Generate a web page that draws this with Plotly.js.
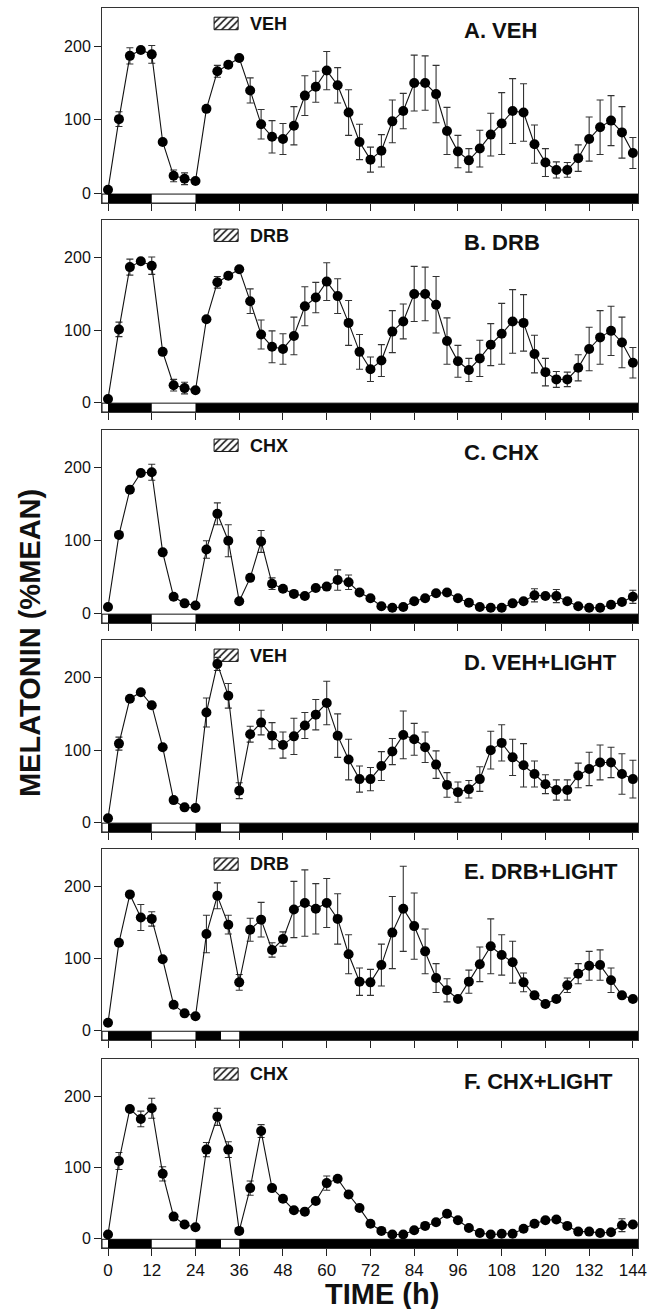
<!DOCTYPE html>
<html>
<head>
<meta charset="utf-8">
<script src="https://cdn.plot.ly/plotly-3.0.1.min.js"></script>
<style>html,body{margin:0;padding:0;background:#fff;}</style>
</head>
<body>
<div id="chart" style="width:655px;height:1309px;"></div>
<script>
// ---- data ----
const hours = [0,3,6,9,12,15,18,21,24,27,30,33,36,39,42,45,48,51,54,57,60,63,66,69,72,75,78,81,84,87,90,93,96,99,102,105,108,111,114,117,120,123,126,129,132,135,138,141,144];

const valA = [5,101,187,195,189,70,24,20,17,115,166,175,184,140,94,77,74,92,133,145,167,147,110,70,46,58,98,112,150,150,135,85,57,45,61,80,95,112,110,67,42,32,32,48,74,90,99,83,55];
const errA = [0,10,11,3,12,0,8,8,0,0,8,0,0,17,20,22,21,26,27,21,26,24,31,24,17,22,29,24,38,37,39,32,22,16,25,29,42,44,39,26,19,11,10,18,30,37,34,35,21];

const valB = [5,101,187,195,189,70,24,20,17,115,166,175,184,140,94,77,74,92,133,145,167,147,110,70,46,58,98,112,150,150,135,85,57,45,61,80,95,112,110,67,42,32,32,48,74,90,99,83,55];
const errB = [0,10,11,3,12,0,8,8,0,0,8,0,0,17,20,22,21,26,27,21,26,24,31,24,17,22,29,24,38,37,39,32,22,16,25,29,42,44,39,26,19,11,10,18,30,37,34,35,21];

const valC = [9,108,170,193,194,84,23,14,11,88,137,100,17,49,99,41,34,27,24,35,37,46,43,29,21,10,8,9,17,21,28,29,21,15,9,8,8,14,17,25,24,24,17,10,8,8,12,16,23];
const errC = [0,0,0,0,11,0,0,0,0,12,15,22,0,0,15,8,0,0,0,0,0,14,10,0,0,0,0,0,0,0,0,0,0,0,0,0,0,0,0,9,0,9,0,0,0,0,0,0,9];

const valD = [6,109,171,180,162,104,31,21,20,152,219,175,44,122,138,120,107,119,134,149,165,120,87,60,60,78,98,121,115,104,80,52,42,46,60,100,110,90,79,67,53,45,45,65,74,83,83,67,60];
const errD = [0,9,0,0,0,0,0,0,0,20,9,17,11,11,17,18,18,25,18,21,30,30,28,18,16,20,18,33,22,21,19,17,14,12,17,26,25,25,30,18,13,14,14,17,23,24,21,28,26];

const valE = [11,122,189,157,155,99,36,24,20,134,187,147,67,140,154,112,127,168,177,169,177,155,106,68,67,91,136,169,145,110,73,56,44,68,92,117,105,95,67,49,37,44,63,79,90,91,70,49,44];
const errE = [0,0,0,18,10,0,0,0,0,26,18,13,11,16,24,10,10,39,46,35,34,35,27,19,18,29,50,59,46,31,20,16,0,16,24,38,28,29,13,0,0,0,10,14,20,21,17,0,0];

const valF = [6,109,182,168,183,91,31,20,16,125,171,125,11,71,151,71,56,40,38,53,78,84,62,43,21,11,6,6,12,18,23,35,26,15,8,6,7,7,14,21,26,27,18,10,10,8,9,19,20];
const errF = [0,12,0,11,14,10,0,0,0,10,12,11,0,10,9,0,0,0,0,0,10,0,0,0,0,0,0,0,0,0,0,0,0,0,0,0,0,0,0,0,0,0,0,0,0,0,0,9,0];

const panelTitles = ['A. VEH','B. DRB','C. CHX','D. VEH+LIGHT','E. DRB+LIGHT','F. CHX+LIGHT'];
const treatments = ['VEH','DRB','CHX','VEH','DRB','CHX'];
const xTickHours = [0,12,24,36,48,60,72,84,96,108,120,132,144];
const yTickVals = [0,100,200];

// light/dark schedule (dark periods, h)
const darkStartPlain = [0,24];
const darkEndPlain   = [12,144];
const darkStartLight = [0,24,36];
const darkEndLight   = [12,31,144];

// ---- build ----
const values = [valA,valB,valC,valD,valE,valF];
const errors = [errA,errB,errC,errD,errE,errF];
const darkStarts = [darkStartPlain,darkStartPlain,darkStartPlain,darkStartLight,darkStartLight,darkStartLight];
const darkEnds = [darkEndPlain,darkEndPlain,darkEndPlain,darkEndLight,darkEndLight,darkEndLight];

const FONT = 'Liberation Sans, Arial, Helvetica, sans-serif';
const xRange = [-1.65, 145.4];
const yRange = [-13, 252];
const yDomains = [[0.8427,1],[0.6742,0.829],[0.504,0.6597],[0.3355,0.4903],[0.1677,0.3218],[0,0.1524]];

const traces = [];
const shapes = [];
const annotations = [];
const layout = {
  width:655, height:1309,
  margin:{l:102,r:17,t:8,b:61},
  paper_bgcolor:'#fff', plot_bgcolor:'#fff',
  showlegend:false, barmode:'overlay',
  font:{family:FONT,color:'#111'}
};

for (let i=0;i<6;i++){
  const s = i===0 ? '' : String(i+1);
  const xa = 'x'+s, ya = 'y'+s;
  layout['xaxis'+s] = {
    domain:[0,1], range:xRange, anchor:ya,
    tickmode:'array', tickvals:xTickHours, ticktext:xTickHours.map(String),
    ticks:'outside', ticklen:7, tickwidth:1, tickcolor:'#222',
    showticklabels: i===5, tickfont:{family:FONT,size:17,color:'#111'},
    showline:true, mirror:true, linecolor:'#333', linewidth:1,
    showgrid:false, zeroline:false, fixedrange:true
  };
  layout['yaxis'+s] = {
    domain:yDomains[i], range:yRange, anchor:xa,
    tickmode:'array', tickvals:yTickVals, ticktext:yTickVals.map(String),
    ticks:'outside', ticklen:7, tickwidth:1, tickcolor:'#222',
    tickfont:{family:FONT,size:16,color:'#111'},
    showline:true, mirror:true, linecolor:'#333', linewidth:1,
    showgrid:false, zeroline:false, fixedrange:true
  };

  // hatched treatment key box
  traces.push({
    type:'bar', x:[32.4], y:[17], base:[222.5], width:[6.6],
    xaxis:xa, yaxis:ya, hoverinfo:'skip', showlegend:false,
    marker:{color:'#fff', line:{color:'#111',width:1},
      pattern:{shape:'/', fgcolor:'#111', bgcolor:'#fff', size:5, solidity:0.3}}
  });

  // data
  traces.push({
    type:'scatter', mode:'lines+markers',
    x:hours, y:values[i], xaxis:xa, yaxis:ya,
    line:{color:'#111', width:1.1},
    marker:{color:'#000', size:10},
    error_y:{type:'data', array:errors[i], visible:true, color:'#333', thickness:1.1, width:3.5},
    cliponaxis:false
  });

  // light/dark bar
  shapes.push({type:'rect', xref:xa, yref:ya, x0:xRange[0], x1:xRange[1], y0:yRange[0], y1:-0.8,
    fillcolor:'#fff', line:{color:'#111',width:1}, layer:'below'});
  for (let k=0;k<darkStarts[i].length;k++){
    const e = darkEnds[i][k] >= 144 ? xRange[1] : darkEnds[i][k];
    shapes.push({type:'rect', xref:xa, yref:ya, x0:darkStarts[i][k], x1:e, y0:yRange[0], y1:-0.8,
      fillcolor:'#000', line:{width:0}, layer:'below'});
  }

  annotations.push({xref:xa, yref:ya, x:97, y:221, xanchor:'left', yanchor:'middle',
    text:'<b>'+panelTitles[i]+'</b>', showarrow:false, font:{family:FONT,size:22,color:'#111'}});
  annotations.push({xref:xa, yref:ya, x:38.3, y:230.5, xanchor:'left', yanchor:'middle',
    text:'<b>'+treatments[i]+'</b>', showarrow:false, font:{family:FONT,size:18,color:'#111'}});
}

annotations.push({xref:'paper', yref:'paper', x:-0.134, y:0.488, xanchor:'center', yanchor:'middle',
  textangle:-90, text:'<b>MELATONIN (%MEAN)</b>', showarrow:false, font:{family:FONT,size:29,color:'#111'}});
annotations.push({xref:'paper', yref:'paper', x:0.522, y:-0.037, xanchor:'center', yanchor:'middle',
  text:'<b>TIME (h)</b>', showarrow:false, font:{family:FONT,size:29,color:'#111'}});

layout.shapes = shapes;
layout.annotations = annotations;

Plotly.newPlot('chart', traces, layout, {displayModeBar:false, staticPlot:true});
</script>
</body>
</html>
